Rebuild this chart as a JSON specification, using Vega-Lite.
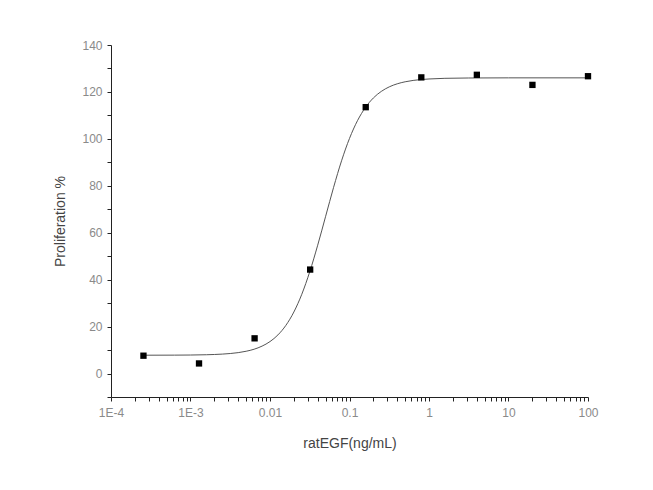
{
  "$schema": "https://vega.github.io/schema/vega-lite/v6.json",
  "width": 477,
  "height": 352,
  "autosize": "none",
  "padding": {"left": 111, "top": 45, "right": 65, "bottom": 93},
  "background": "white",
  "config": {
    "view": {"stroke": null},
    "font": "Liberation Sans",
    "axis": {
      "domainColor": "#222",
      "tickColor": "#222",
      "labelColor": "#8a8a8a",
      "labelFont": "Liberation Sans",
      "labelFontSize": 12,
      "labelOverlap": false,
      "titleFont": "Liberation Sans",
      "titleFontSize": 14,
      "titleFontWeight": "normal",
      "titleColor": "#444",
      "grid": false
    }
  },
  "datasets": {
    "points": [
      {"conc": 0.000256, "prolif": 7.6},
      {"conc": 0.00128, "prolif": 4.3},
      {"conc": 0.0064, "prolif": 15.0},
      {"conc": 0.032, "prolif": 44.3},
      {"conc": 0.16, "prolif": 113.5},
      {"conc": 0.8, "prolif": 126.2},
      {"conc": 4, "prolif": 127.3},
      {"conc": 20, "prolif": 123.0},
      {"conc": 100, "prolif": 126.7}
    ],
    "fit": [
      {"conc": 0.000251, "prolif": 7.81},
      {"conc": 0.000631, "prolif": 7.84},
      {"conc": 0.001, "prolif": 7.89},
      {"conc": 0.001585, "prolif": 8.01},
      {"conc": 0.002512, "prolif": 8.28},
      {"conc": 0.003981, "prolif": 8.91},
      {"conc": 0.005012, "prolif": 9.49},
      {"conc": 0.00631, "prolif": 10.36},
      {"conc": 0.007943, "prolif": 11.68},
      {"conc": 0.01, "prolif": 13.62},
      {"conc": 0.01259, "prolif": 16.46},
      {"conc": 0.01585, "prolif": 20.54},
      {"conc": 0.01995, "prolif": 26.21},
      {"conc": 0.02512, "prolif": 33.79},
      {"conc": 0.03162, "prolif": 43.37},
      {"conc": 0.03981, "prolif": 54.69},
      {"conc": 0.05012, "prolif": 67.02},
      {"conc": 0.0631, "prolif": 79.35},
      {"conc": 0.07943, "prolif": 90.65},
      {"conc": 0.1, "prolif": 100.19},
      {"conc": 0.1259, "prolif": 107.73},
      {"conc": 0.1585, "prolif": 113.36},
      {"conc": 0.1995, "prolif": 117.42},
      {"conc": 0.2512, "prolif": 120.23},
      {"conc": 0.3162, "prolif": 122.16},
      {"conc": 0.3981, "prolif": 123.46},
      {"conc": 0.5012, "prolif": 124.32},
      {"conc": 0.631, "prolif": 124.9},
      {"conc": 0.7943, "prolif": 125.28},
      {"conc": 1, "prolif": 125.52},
      {"conc": 1.585, "prolif": 125.8},
      {"conc": 3.162, "prolif": 125.94},
      {"conc": 10, "prolif": 126.0},
      {"conc": 100, "prolif": 126.0}
    ]
  },
  "encoding": {
    "x": {
      "field": "conc",
      "type": "quantitative",
      "scale": {"type": "log", "domain": [0.0001, 100], "nice": false},
      "axis": {
        "title": "ratEGF(ng/mL)",
        "titlePadding": 18,
        "values": [0.0001, 0.0002, 0.0003, 0.0004, 0.0005, 0.0006, 0.0007, 0.0008, 0.0009,
                   0.001, 0.002, 0.003, 0.004, 0.005, 0.006, 0.007, 0.008, 0.009,
                   0.01, 0.02, 0.03, 0.04, 0.05, 0.06, 0.07, 0.08, 0.09,
                   0.1, 0.2, 0.3, 0.4, 0.5, 0.6, 0.7, 0.8, 0.9,
                   1, 2, 3, 4, 5, 6, 7, 8, 9,
                   10, 20, 30, 40, 50, 60, 70, 80, 90, 100],
        "labelExpr": "abs(log(datum.value) / LN10 - round(log(datum.value) / LN10)) > 0.01 ? '' : datum.value < 0.0005 ? '1E-4' : datum.value < 0.005 ? '1E-3' : format(datum.value, '~g')",
        "tickSize": 4,
        "labelPadding": 6,
        "labelFlush": false
      }
    },
    "y": {
      "field": "prolif",
      "type": "quantitative",
      "scale": {"domain": [-10, 140], "nice": false, "zero": false},
      "axis": {
        "title": "Proliferation %",
        "titlePadding": 14,
        "values": [-10, 0, 10, 20, 30, 40, 50, 60, 70, 80, 90, 100, 110, 120, 130, 140],
        "labelExpr": "datum.value % 20 != 0 ? '' : datum.label",
        "tickSize": 4,
        "labelPadding": 5
      }
    }
  },
  "layer": [
    {
      "data": {"name": "fit"},
      "mark": {"type": "line", "color": "#555", "strokeWidth": 1, "interpolate": "monotone"}
    },
    {
      "data": {"name": "points"},
      "mark": {"type": "square", "color": "black", "size": 40, "opacity": 1, "filled": true}
    }
  ]
}
